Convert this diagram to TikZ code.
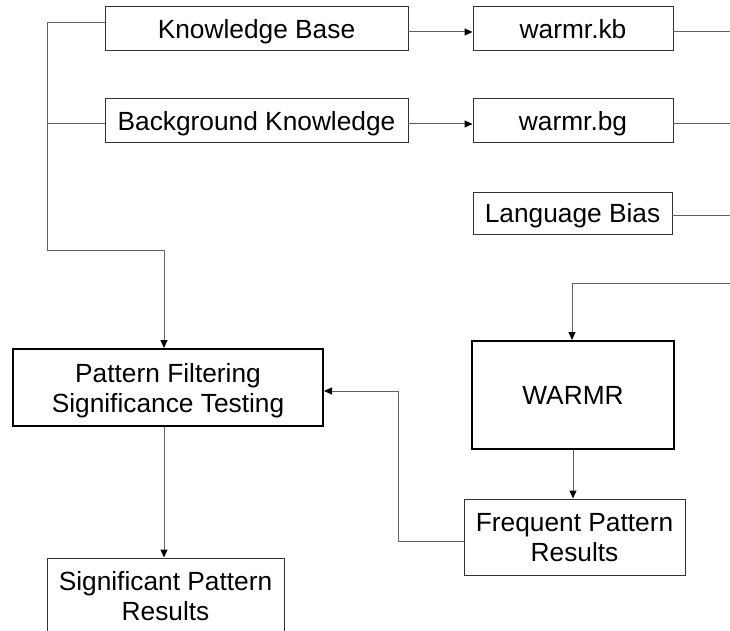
\documentclass[tikz,border=0pt]{standalone}
\usepackage{fontspec}
\setmainfont{Liberation Sans}
\usetikzlibrary{arrows.meta}
\begin{document}
\begin{tikzpicture}[x=1pt,y=-1pt,
  box/.style={draw=black!80, line width=1pt, rectangle, inner sep=0pt,
    align=center, text depth=0pt, font=\fontsize{26.3}{30}\selectfont},
  bigbox/.style={box, draw=black, line width=2pt},
  link/.style={draw=black!62, line width=1pt},
  arr/.style={link, -{Triangle[length=8pt,width=7pt]}, arrows={[color=black]}}]
\clip (0,0) rectangle (730,631);
\fill[white] (0,0) rectangle (730,631);

% input boxes
\node[box, minimum width=303pt, minimum height=44pt] (kb) at (256.5,29) {Knowledge Base};
\node[box, minimum width=303pt, minimum height=44pt] (bk) at (256.5,121) {Background Knowledge};
\node[box, minimum width=200pt, minimum height=44pt] (wkb) at (573,29) {warmr.kb};
\node[box, minimum width=200pt, minimum height=44pt] (wbg) at (573,121) {warmr.bg};
\node[box, minimum width=199pt, minimum height=42pt] (lb) at (572.5,213) {Language Bias};

% processing boxes
\node[bigbox, minimum width=202pt, minimum height=108pt] (warmr) at (573,395) {WARMR};
\node[box, minimum width=221pt, minimum height=76pt] (fp) at (574.5,537) {Frequent Pattern\\Results};
\node[bigbox, minimum width=310pt, minimum height=77pt] (pf) at (168,387.5) {Pattern Filtering\\Significance Testing};
\node[box, minimum width=237pt, minimum height=75pt] (sp) at (165.5,595.5) {Significant Pattern\\Results};

% helper points
\coordinate (kbL) at (105,23);
\coordinate (bkL) at (105,124);
\coordinate (busTop) at (47,23);
\coordinate (busBk) at (47,124);
\coordinate (busBot) at (47,250);
\coordinate (pfIn) at (164,250);
\coordinate (kbR) at (408,32);
\coordinate (bkR) at (408,124);
\coordinate (wkbR) at (673,32);
\coordinate (wbgR) at (673,124);
\coordinate (lbR) at (672,215);
\coordinate (eKb) at (730,32);
\coordinate (eBg) at (730,124);
\coordinate (eLb) at (730,215);
\coordinate (eIn) at (730,283);
\coordinate (wIn) at (572,283);
\coordinate (fpL) at (464,541);
\coordinate (fbA) at (398,541);
\coordinate (fbB) at (398,391);

% left collector into filtering
\draw[link] (kbL) -- (busTop) -- (busBot) -- (pfIn);
\draw[arr] (pfIn) -- (pfIn |- pf.north);
\draw[link] (bkL) -- (busBk);

% files
\draw[arr] (kbR) -- (kbR -| wkb.west);
\draw[arr] (bkR) -- (bkR -| wbg.west);
\draw[link] (wkbR) -- (eKb);
\draw[link] (wbgR) -- (eBg);
\draw[link] (lbR) -- (eLb);

% into WARMR
\draw[arr] (eIn) -- (wIn) -- (wIn |- warmr.north);
\draw[arr] (warmr.south) -- (warmr.south |- fp.north);

% feedback to filtering
\draw[arr] (fpL) -- (fbA) -- (fbB) -- (fbB -| pf.east);

% output
\draw[arr] (pf.south -| pfIn) -- (sp.north -| pfIn);
\end{tikzpicture}
\end{document}
